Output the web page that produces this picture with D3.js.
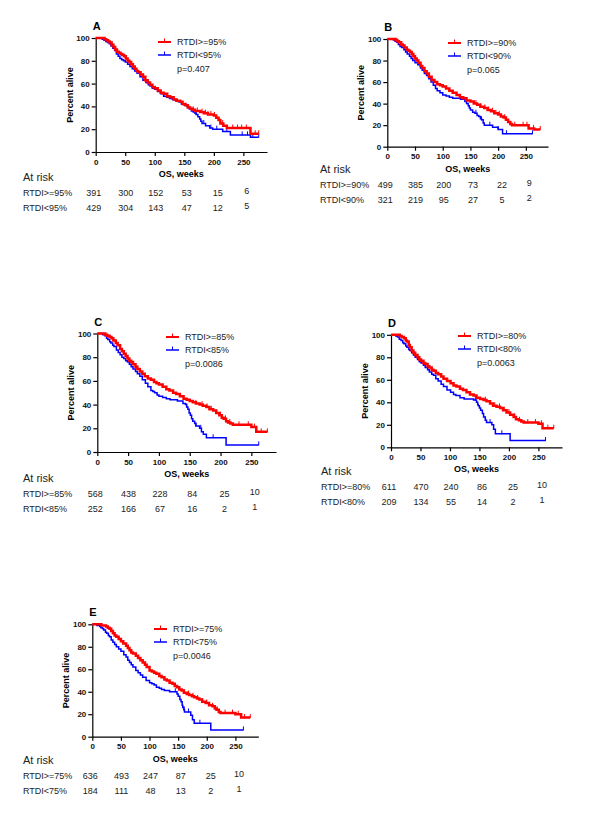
<!DOCTYPE html>
<html>
<head>
<meta charset="utf-8">
<script src="https://cdn.jsdelivr.net/npm/d3@7"></script>
<style>
	body { margin: 0; background: #fff; }
	svg { display: block; font-family: "Liberation Sans", Arial, sans-serif; }
</style>
</head>
<body>
<script>
// chart values
var weekTicks = [0, 50, 100, 150, 200, 250];
var pctTicks = [0, 20, 40, 60, 80, 100];
var panelLetters = ["A", "B", "C", "D", "E"];
var cutoffs = [95, 90, 85, 80, 75];
var pValues = ["p=0.407", "p=0.065", "p=0.0086", "p=0.0063", "p=0.0046"];

var riskHigh = [
	[391, 300, 152, 53, 15, 6],
	[499, 385, 200, 73, 22, 9],
	[568, 438, 228, 84, 25, 10],
	[611, 470, 240, 86, 25, 10],
	[636, 493, 247, 87, 25, 10]
];
var riskLow = [
	[429, 304, 143, 47, 12, 5],
	[321, 219, 95, 27, 5, 2],
	[252, 166, 67, 16, 2, 1],
	[209, 134, 55, 14, 2, 1],
	[184, 111, 48, 13, 2, 1]
];

// survival steps [week, percent]
var kmHighA = [[0,100],[12,100],[15,99],[18,98],[21,97],[24,96],[27,94],[30,92],[33,90],[36,88],[39,87],[42,86],[45,85],[48,84],[51,82],[54,80],[57,79],[60,77],[63,75],[66,73],[69,71],[72,70],[76,68],[80,66],[84,63],[88,61],[92,59],[96,57],[100,56],[105,54],[110,52],[115,51],[121,49],[126,48],[132,46],[137,45],[143,44],[147,42],[152,41],[156,39],[160,38],[164,37],[168,36],[177,35],[183,34],[190,33],[200,32],[204,30],[208,28],[211,25],[216,23],[222,21],[262,16],[276,16]];
var kmLowA = [[0,100],[8,100],[11,99],[14,98],[17,97],[20,96],[23,95],[26,93],[29,91],[32,89],[35,86],[38,84],[41,82],[44,81],[47,80],[50,79],[54,77],[58,75],[62,73],[66,71],[70,69],[75,66],[80,63],[85,61],[89,59],[92,58],[96,56],[100,55],[105,53],[110,51],[115,49],[120,48],[125,47],[130,46],[135,45],[140,44],[145,42],[150,41],[154,40],[158,38],[162,36],[165,35],[168,34],[170,33],[173,31],[176,29],[178,27],[180,25],[186,23],[193,21],[198,20],[215,18],[228,15],[262,13],[276,13]];
var kmHighB = [[0,100],[12,100],[15,99],[18,98],[21,97],[25,95],[28,94],[31,92],[35,90],[38,89],[41,88],[44,86],[47,84],[50,82],[53,80],[56,78],[60,75],[63,73],[67,70],[71,68],[75,65],[80,62],[85,60],[90,58],[95,57],[100,56],[106,54],[112,52],[118,50],[125,48],[131,46],[137,45],[143,43],[150,42],[156,40],[162,39],[168,37],[175,36],[181,34],[187,33],[193,31],[200,30],[205,28],[210,27],[214,25],[218,23],[222,21],[225,20],[255,17],[265,16],[276,16]];
var kmLowB = [[0,100],[8,100],[11,99],[14,98],[17,97],[20,95],[23,93],[26,92],[30,90],[33,88],[36,86],[40,84],[43,82],[46,80],[50,78],[55,76],[60,73],[63,71],[67,68],[71,66],[75,63],[79,60],[83,57],[87,54],[90,52],[95,50],[100,48],[106,47],[112,46],[118,45],[125,45],[132,44],[140,42],[143,40],[146,38],[148,36],[150,34],[154,32],[158,31],[162,29],[165,28],[168,26],[170,25],[173,22],[175,20],[190,18],[200,16],[208,12],[262,12]];
var kmHighC = [[0,100],[10,100],[13,99],[16,98],[20,97],[23,96],[26,94],[30,92],[33,90],[37,87],[40,85],[43,83],[46,81],[49,79],[52,77],[55,76],[58,74],[62,72],[65,70],[69,68],[73,66],[77,64],[82,62],[87,61],[92,59],[96,58],[100,57],[106,55],[112,53],[117,52],[123,50],[128,49],[134,47],[140,45],[145,44],[150,43],[155,42],[160,41],[166,40],[171,39],[177,38],[182,36],[188,35],[193,33],[198,31],[202,29],[205,28],[209,26],[212,25],[216,24],[220,23],[250,21],[258,17],[276,17]];
var kmLowC = [[0,100],[6,100],[9,99],[12,98],[15,96],[17,95],[20,93],[22,92],[25,90],[27,89],[31,86],[34,84],[37,82],[40,80],[43,79],[46,77],[49,76],[52,74],[55,72],[58,70],[62,68],[65,66],[69,64],[73,61],[78,58],[82,55],[87,52],[90,51],[93,50],[97,48],[100,47],[106,46],[112,45],[118,44],[123,44],[130,43],[139,41],[143,40],[145,38],[147,36],[149,33],[151,31],[153,28],[155,26],[158,24],[160,22],[166,20],[169,17],[172,15],[177,12],[209,6],[262,6]];
var kmHighD = [[0,100],[12,100],[15,99],[18,98],[22,97],[25,95],[27,94],[30,91],[32,89],[35,86],[38,84],[41,82],[45,80],[48,78],[51,77],[55,75],[58,74],[62,72],[65,71],[69,69],[72,68],[76,66],[80,65],[85,63],[89,61],[95,59],[101,57],[106,55],[111,54],[117,52],[122,51],[128,49],[134,47],[140,46],[145,44],[151,43],[157,42],[162,41],[168,39],[173,37],[179,36],[185,35],[190,33],[196,31],[202,29],[208,27],[212,25],[217,24],[221,23],[225,22],[250,21],[257,17],[276,17]];
var kmLowD = [[0,100],[5,100],[8,99],[11,98],[14,96],[17,95],[20,93],[22,92],[25,90],[27,89],[30,87],[32,86],[35,84],[38,82],[41,80],[45,78],[48,76],[51,75],[55,73],[58,71],[62,69],[65,67],[69,65],[72,64],[76,61],[80,59],[85,56],[89,54],[95,51],[101,49],[106,47],[110,46],[117,44],[124,43],[130,43],[140,42],[145,40],[147,38],[148,37],[150,35],[152,33],[155,30],[157,27],[160,24],[162,22],[171,20],[174,16],[177,12],[202,6],[262,6]];
var kmHighE = [[0,100],[13,100],[16,99],[24,98],[27,97],[30,96],[33,94],[36,92],[39,90],[42,89],[46,87],[50,85],[54,83],[59,81],[62,79],[65,77],[68,75],[71,74],[76,72],[80,70],[84,68],[88,66],[92,64],[95,62],[100,59],[104,58],[108,57],[112,56],[117,54],[121,53],[126,51],[130,50],[135,48],[140,47],[144,45],[148,44],[152,42],[156,41],[160,39],[165,38],[169,37],[174,36],[178,35],[183,34],[187,33],[192,31],[198,30],[204,28],[210,27],[214,25],[217,24],[221,22],[224,21],[250,20],[260,17],[276,17]];
var kmLowE = [[0,100],[5,100],[8,99],[13,98],[15,97],[18,96],[20,95],[23,93],[25,92],[28,90],[30,89],[33,86],[36,84],[39,82],[42,80],[46,78],[50,76],[55,73],[59,71],[62,68],[65,66],[68,64],[71,62],[76,59],[80,57],[84,55],[88,53],[94,50],[100,48],[104,47],[108,46],[112,44],[117,43],[121,42],[126,41],[135,40],[146,40],[148,38],[150,36],[153,33],[155,31],[157,28],[158,26],[160,24],[161,22],[172,19],[175,15],[178,12],[207,6],[264,6]];

// censored weeks
var censHighA = [165,172,180,186,190,195,201,215,232,240,247,255,262,270,276];
var censLowA = [170,183,195,205,222,248,257,266,276];
var censHighB = [160,168,176,183,190,196,202,212,230,245,252,264,276];
var censLowB = [143,160,170,185,200,215,262];
var censHighC = [160,170,178,185,193,200,208,215,230,245,255,266,276];
var censLowC = [145,160,168,188,262];
var censHighD = [160,168,176,184,192,200,210,218,232,245,255,266,276];
var censLowD = [143,160,168,188,262];
var censHighE = [160,168,176,184,192,200,210,218,232,245,255,266,276];
var censLowE = [145,160,168,188,264];

var kmHigh = [kmHighA, kmHighB, kmHighC, kmHighD, kmHighE];
var kmLow = [kmLowA, kmLowB, kmLowC, kmLowD, kmLowE];
var censHigh = [censHighA, censHighB, censHighC, censHighD, censHighE];
var censLow = [censLowA, censLowB, censLowC, censLowD, censLowE];

// where each panel sits on the page
var layout = [
	{x0: 95.7, x1: 267, yTop: 38, yBot: 152, legX: 158, legY: 42, rowX: 23, riskY: 193},
	{x0: 387.3, x1: 548, yTop: 39, yBot: 146.7, legX: 448, legY: 43, rowX: 320, riskY: 185},
	{x0: 97.3, x1: 276, yTop: 333.5, yBot: 452, legX: 166, legY: 337, rowX: 23, riskY: 494},
	{x0: 391, x1: 562, yTop: 334.8, yBot: 447.3, legX: 458, legY: 336, rowX: 321, riskY: 487},
	{x0: 92.3, x1: 258.3, yTop: 624.3, yBot: 736.7, legX: 154, legY: 629, rowX: 23, riskY: 776}
];
var colOffset = [-2, 0.5, 1, 2.5, 4, 3.5];

var RED = "#ff0000", BLUE = "#0000ff";

var svg = d3.select("body").append("svg")
	.attr("width", 600)
	.attr("height", 817);

function stepAt(steps, t) {
	var v = steps[0][1];
	steps.forEach(function(s) { if (s[0] <= t) v = s[1]; });
	return v;
}

function panel(i) {
	var L = layout[i];
	var x = d3.scaleLinear().domain([0, 290]).range([L.x0, L.x1]);
	var y = d3.scaleLinear().domain([0, 100]).range([L.yBot, L.yTop]);
	var g = svg.append("g");

	var xa = g.append("g")
		.attr("transform", "translate(0," + L.yBot + ")")
		.call(d3.axisBottom(x).tickValues(weekTicks).tickSize(4).tickSizeOuter(0).tickPadding(3));
	var ya = g.append("g")
		.attr("transform", "translate(" + L.x0 + ",0)")
		.call(d3.axisLeft(y).tickValues(pctTicks).tickSize(4).tickSizeOuter(0).tickPadding(2));
	[xa, ya].forEach(function(a) {
		a.attr("font-family", null).attr("font-size", null);
		a.selectAll("text").attr("font-size", 8).attr("font-weight", "bold").attr("fill", "#111");
		a.selectAll("path, line").attr("stroke", "#000").attr("stroke-width", 1.2);
	});

	var line = d3.line()
		.x(function(d) { return x(d[0]); })
		.y(function(d) { return y(d[1]); })
		.curve(d3.curveStepAfter);

	var series = [
		{steps: kmLow[i], cens: censLow[i], color: BLUE, w: 1.5},
		{steps: kmHigh[i], cens: censHigh[i], color: RED, w: 2.5}
	];
	series.forEach(function(s) {
		g.append("path")
			.datum(s.steps)
			.attr("fill", "none")
			.attr("stroke", s.color)
			.attr("stroke-width", s.w)
			.attr("d", line);
		g.selectAll(null)
			.data(s.cens)
			.enter().append("line")
			.attr("x1", function(d) { return x(d); })
			.attr("x2", function(d) { return x(d); })
			.attr("y1", function(d) { return y(stepAt(s.steps, d)) - 3.5; })
			.attr("y2", function(d) { return y(stepAt(s.steps, d)) + 0.5; })
			.attr("stroke", s.color)
			.attr("stroke-width", 1);
	});

	// panel letter and axis titles
	g.append("text")
		.attr("x", L.x0 - 3)
		.attr("y", L.yTop - 8)
		.attr("font-size", 11)
		.attr("font-weight", "bold")
		.text(panelLetters[i]);
	g.append("text")
		.attr("transform", "translate(" + (L.x0 - 26) + "," + ((L.yTop + L.yBot) / 2) + ") rotate(-90)")
		.attr("text-anchor", "middle")
		.attr("dy", "0.35em")
		.attr("font-size", 9)
		.attr("font-weight", "bold")
		.text("Percent alive");
	g.append("text")
		.attr("x", (L.x0 + L.x1) / 2)
		.attr("y", L.yBot + 22)
		.attr("dy", "0.35em")
		.attr("text-anchor", "middle")
		.attr("font-size", 9)
		.attr("font-weight", "bold")
		.text("OS, weeks");

	// legend
	var leg = [
		{label: "RTDI>=" + cutoffs[i] + "%", color: RED, w: 2},
		{label: "RTDI<" + cutoffs[i] + "%", color: BLUE, w: 1.5}
	];
	leg.forEach(function(d, k) {
		var ly = L.legY + k * 13;
		g.append("line")
			.attr("x1", L.legX).attr("x2", L.legX + 13)
			.attr("y1", ly).attr("y2", ly)
			.attr("stroke", d.color).attr("stroke-width", d.w);
		g.append("line")
			.attr("x1", L.legX + 6.5).attr("x2", L.legX + 6.5)
			.attr("y1", ly - 3.5).attr("y2", ly)
			.attr("stroke", d.color).attr("stroke-width", 1);
		g.append("text")
			.attr("x", L.legX + 19)
			.attr("y", ly)
			.attr("dy", "0.35em")
			.attr("font-size", 9)
			.attr("fill", "#222")
			.text(d.label);
	});
	g.append("text")
		.attr("x", L.legX + 19)
		.attr("y", L.legY + 27)
		.attr("dy", "0.35em")
		.attr("font-size", 9)
		.attr("fill", "#222")
		.text(pValues[i]);

	// numbers at risk
	g.append("text")
		.attr("x", L.rowX)
		.attr("y", L.riskY - 16)
		.attr("dy", "0.35em")
		.attr("font-size", 11)
		.attr("fill", "#222")
		.text("At risk");
	var rows = [
		{label: "RTDI>=" + cutoffs[i] + "%", vals: riskHigh[i]},
		{label: "RTDI<" + cutoffs[i] + "%", vals: riskLow[i]}
	];
	rows.forEach(function(r, k) {
		var ry = L.riskY + k * 15;
		g.append("text")
			.attr("x", L.rowX)
			.attr("y", ry)
			.attr("dy", "0.35em")
			.attr("font-size", 9)
			.attr("fill", "#222")
			.text(r.label);
		g.selectAll(null)
			.data(r.vals)
			.enter().append("text")
			.attr("x", function(d, j) { return x(weekTicks[j]) + colOffset[j]; })
			.attr("y", function(d, j) { return j == 5 ? ry - 2 : ry; })
			.attr("dy", "0.35em")
			.attr("text-anchor", "middle")
			.attr("font-size", 9)
			.attr("fill", "#222")
			.text(function(d) { return d; });
	});
}

window.onload = function() {
	for (var i = 0; i < layout.length; i++) panel(i);
};
</script>
</body>
</html>
